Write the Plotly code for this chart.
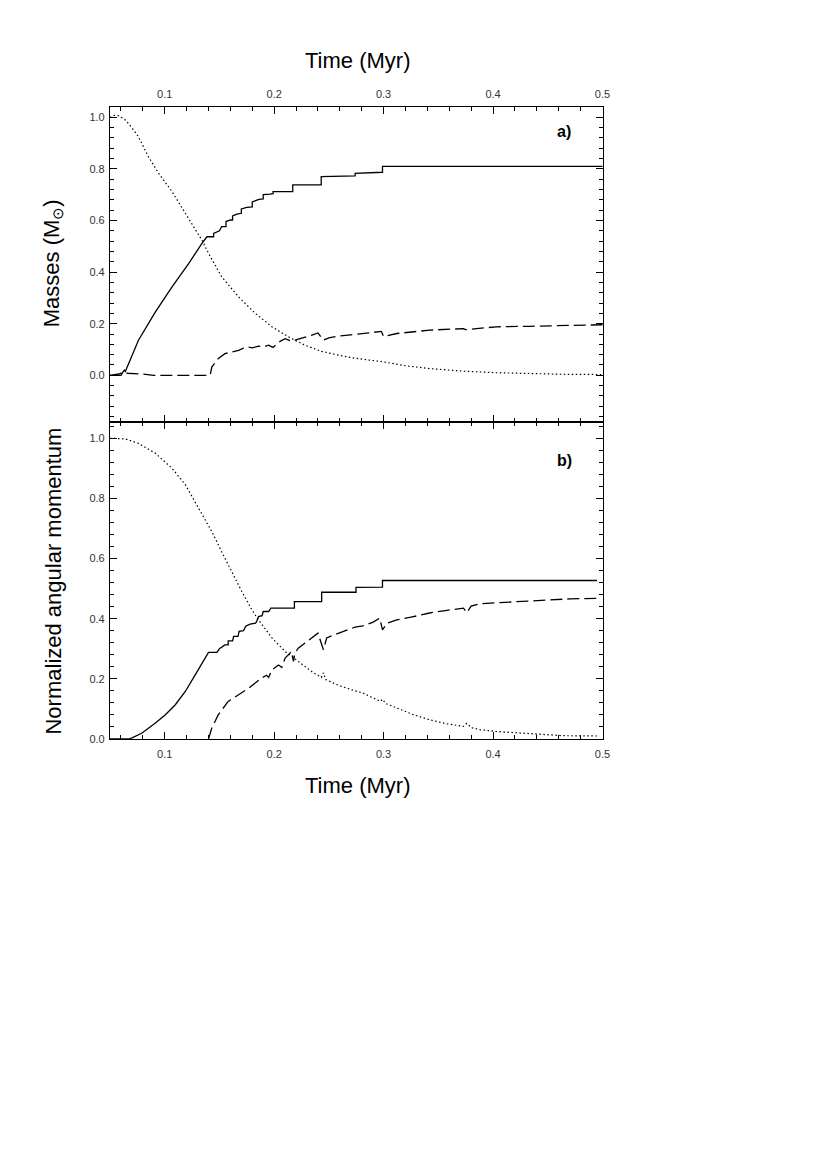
import plotly.graph_objects as go
from plotly.subplots import make_subplots

# panel a) masses (Msun) vs time (Myr)
star_mass_t = [0.050, 0.060, 0.063, 0.064, 0.076, 0.0915, 0.1067, 0.122, 0.134, 0.1386, 0.1447,
               0.1447, 0.150, 0.152, 0.156, 0.156, 0.160, 0.162, 0.162, 0.166, 0.170, 0.170,
               0.175, 0.180, 0.180, 0.186, 0.190, 0.190, 0.196, 0.199, 0.199, 0.217, 0.217,
               0.243, 0.243, 0.274, 0.274, 0.299, 0.299, 0.500]
star_mass = [0.0, 0.0, 0.02, 0.015, 0.136, 0.246, 0.343, 0.434, 0.511, 0.537, 0.537,
             0.55, 0.56, 0.576, 0.576, 0.596, 0.602, 0.602, 0.618, 0.625, 0.628, 0.645,
             0.651, 0.653, 0.672, 0.682, 0.684, 0.700, 0.702, 0.704, 0.712, 0.712, 0.738,
             0.738, 0.770, 0.773, 0.783, 0.787, 0.810, 0.810]

disk_mass_t = [0.050, 0.058, 0.062, 0.066, 0.080, 0.090, 0.1416, 0.143, 0.149, 0.155, 0.161,
               0.1675, 0.172, 0.176, 0.180, 0.1857, 0.190, 0.1948, 0.199, 0.204, 0.210, 0.216,
               0.222, 0.228, 0.234, 0.240, 0.245, 0.250, 0.259, 0.270, 0.281, 0.290, 0.298,
               0.300, 0.312, 0.342, 0.373, 0.375, 0.403, 0.433, 0.464, 0.500]
disk_mass = [0.0, 0.005, 0.012, 0.008, 0.005, 0.0, 0.0, 0.032, 0.065, 0.084, 0.090,
             0.097, 0.105, 0.110, 0.106, 0.113, 0.110, 0.117, 0.108, 0.128, 0.142, 0.132,
             0.140, 0.146, 0.155, 0.164, 0.136, 0.145, 0.152, 0.157, 0.162, 0.166, 0.170,
             0.150, 0.162, 0.175, 0.181, 0.177, 0.188, 0.190, 0.193, 0.196]

env_mass_t = [0.050, 0.054, 0.058, 0.064, 0.070, 0.076, 0.085, 0.0945, 0.1067, 0.1189, 0.134,
              0.140, 0.152, 0.1675, 0.1827, 0.198, 0.213, 0.228, 0.243, 0.259, 0.274, 0.300,
              0.320, 0.342, 0.373, 0.403, 0.433, 0.464, 0.500]
env_mass = [1.0, 1.008, 1.006, 0.99, 0.96, 0.925, 0.848, 0.783, 0.712, 0.628, 0.524,
            0.473, 0.382, 0.304, 0.240, 0.188, 0.149, 0.117, 0.093, 0.078, 0.066, 0.052,
            0.037, 0.026, 0.016, 0.010, 0.006, 0.004, 0.003]

# panel b) normalized angular momentum vs time (Myr)
star_j_t = [0.050, 0.067, 0.0702, 0.0793, 0.0915, 0.1006, 0.1097, 0.1188, 0.128, 0.1355, 0.140,
            0.1477, 0.150, 0.155, 0.158, 0.158, 0.162, 0.163, 0.167, 0.168, 0.172, 0.174,
            0.178, 0.183, 0.184, 0.1857, 0.189, 0.190, 0.195, 0.197, 0.2185, 0.2185,
            0.2434, 0.2434, 0.2748, 0.2748, 0.299, 0.299, 0.495]
star_j = [0.0, 0.0, 0.004, 0.02, 0.053, 0.081, 0.114, 0.158, 0.214, 0.263, 0.288,
          0.288, 0.300, 0.313, 0.313, 0.326, 0.326, 0.341, 0.341, 0.358, 0.360, 0.375,
          0.382, 0.385, 0.391, 0.407, 0.410, 0.424, 0.424, 0.435, 0.435, 0.457,
          0.457, 0.488, 0.488, 0.504, 0.505, 0.527, 0.527]

disk_j_t = [0.140, 0.143, 0.149, 0.158, 0.1675, 0.1766, 0.1887, 0.193, 0.195, 0.198, 0.204,
            0.207, 0.210, 0.216, 0.2176, 0.219, 0.222, 0.228, 0.234, 0.240, 0.245, 0.248,
            0.254, 0.259, 0.266, 0.274, 0.281, 0.290, 0.2965, 0.299, 0.303, 0.312, 0.325,
            0.342, 0.358, 0.373, 0.376, 0.380, 0.388, 0.403, 0.418, 0.433, 0.449, 0.470, 0.495]
disk_j = [0.0, 0.036, 0.081, 0.125, 0.147, 0.169, 0.203, 0.212, 0.205, 0.230, 0.246,
          0.238, 0.269, 0.291, 0.258, 0.285, 0.302, 0.318, 0.336, 0.352, 0.297, 0.336,
          0.345, 0.352, 0.362, 0.372, 0.376, 0.388, 0.402, 0.363, 0.385, 0.396, 0.405,
          0.419, 0.428, 0.435, 0.420, 0.442, 0.450, 0.453, 0.457, 0.460, 0.463, 0.466, 0.468]

env_j_t = [0.050, 0.064, 0.076, 0.0915, 0.1067, 0.119, 0.131, 0.143, 0.152, 0.161, 0.1705,
           0.1796, 0.1857, 0.198, 0.210, 0.222, 0.234, 0.243, 0.245, 0.247, 0.259, 0.274,
           0.281, 0.297, 0.299, 0.302, 0.312, 0.327, 0.342, 0.357, 0.373, 0.376, 0.380,
           0.388, 0.403, 0.433, 0.464, 0.495]
env_j = [1.0, 0.998, 0.983, 0.950, 0.900, 0.845, 0.767, 0.690, 0.623, 0.557, 0.490,
         0.430, 0.396, 0.336, 0.291, 0.258, 0.225, 0.205, 0.220, 0.198, 0.178, 0.160,
         0.153, 0.125, 0.132, 0.118, 0.103, 0.081, 0.064, 0.051, 0.042, 0.052, 0.038,
         0.031, 0.025, 0.018, 0.011, 0.010]

SOLID = dict(color="black", width=1.3)
DASHED = dict(color="black", width=1.3, dash="12px,5px")
DOTTED = dict(color="black", width=1.2, dash="1.5px,2.5px")

fig = make_subplots(rows=2, cols=1, vertical_spacing=0)

fig.add_trace(go.Scatter(x=star_mass_t, y=star_mass, mode="lines", line=SOLID), row=1, col=1)
fig.add_trace(go.Scatter(x=disk_mass_t, y=disk_mass, mode="lines", line=DASHED), row=1, col=1)
fig.add_trace(go.Scatter(x=env_mass_t, y=env_mass, mode="lines", line=DOTTED), row=1, col=1)
fig.add_trace(go.Scatter(x=star_j_t, y=star_j, mode="lines", line=SOLID), row=2, col=1)
fig.add_trace(go.Scatter(x=disk_j_t, y=disk_j, mode="lines", line=DASHED), row=2, col=1)
fig.add_trace(go.Scatter(x=env_j_t, y=env_j, mode="lines", line=DOTTED), row=2, col=1)

tick_font = dict(family="Arial", size=11, color="#333")
common = dict(
    showline=True, linecolor="black", linewidth=1.2, mirror="ticks",
    ticks="inside", ticklen=7, tickwidth=1.2, tickcolor="black",
    showgrid=False, zeroline=False, tickfont=tick_font, tickformat=".1f",
)

fig.update_xaxes(range=[0.05, 0.5005], tick0=0, dtick=0.1, ticklabelstandoff=5,
                 minor=dict(ticks="inside", dtick=0.02, tick0=0, ticklen=4, tickcolor="black"),
                 **common)
fig.update_xaxes(side="top", ticklabelstandoff=4, row=1, col=1)
fig.update_yaxes(tick0=0, dtick=0.2, ticklabelstandoff=2,
                 minor=dict(ticks="inside", dtick=0.04, tick0=0, ticklen=4, tickcolor="black"),
                 **common)
fig.update_yaxes(range=[-0.18, 1.04], row=1, col=1)
fig.update_yaxes(range=[0, 1.055], row=2, col=1)
fig.update_layout(yaxis_domain=[0.502, 1.0], yaxis2_domain=[0.0, 0.502])

title_font = dict(family="Arial", size=22, color="black")
centered = dict(xref="paper", yref="paper", xanchor="center", yanchor="middle", showarrow=False)
fig.add_annotation(text="Time (Myr)", x=0.504, y=1.074, font=title_font, **centered)
fig.add_annotation(text="Time (Myr)", x=0.504, y=-0.0735, font=title_font, **centered)
fig.add_annotation(text="Masses (M<sub>⊙</sub>)", x=-0.1166, y=0.752, textangle=-90,
                   font=title_font, **centered)
fig.add_annotation(text="Normalized angular momentum", x=-0.1166, y=0.25, textangle=-90,
                   font=title_font, **centered)
fig.add_annotation(text="<b>a)</b>", x=0.9215, y=0.9614,
                   font=dict(family="Arial", size=16, color="black"), **centered)
fig.add_annotation(text="<b>b)</b>", x=0.9215, y=0.44,
                   font=dict(family="Arial", size=16, color="black"), **centered)

# page body has an 8px margin, so the figure is shifted by 8px
fig.update_layout(
    width=814, height=1159,
    margin=dict(l=101.5, r=219.3, t=98.7, b=427.7, autoexpand=False),
    showlegend=False,
    plot_bgcolor="white", paper_bgcolor="white",
)

fig.write_html("out.html")
